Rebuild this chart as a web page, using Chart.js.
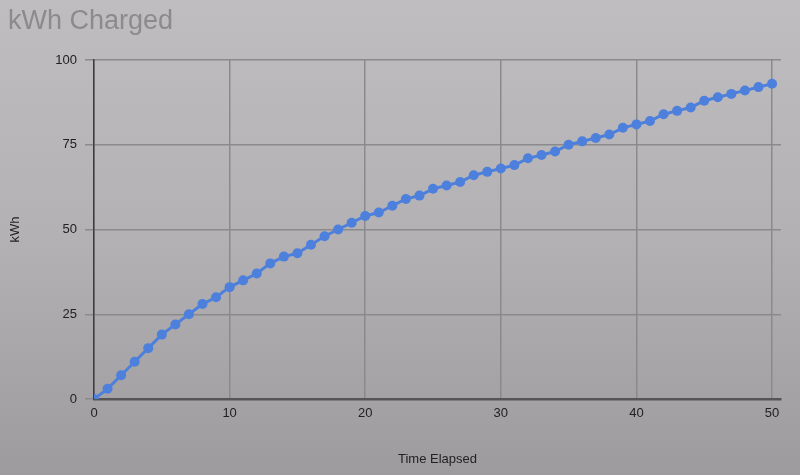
<!DOCTYPE html>
<html>
<head>
<meta charset="utf-8">
<script src="https://cdn.jsdelivr.net/npm/chart.js@4/dist/chart.umd.min.js"></script>
<style>
  html, body { margin: 0; padding: 0; background: #b4b2b4; }
  canvas { display: block; }
</style>
</head>
<body>
<canvas id="c" width="800" height="475"></canvas>
<script>
const chartTitle = "kWh Charged";
const xTitle = "Time Elapsed";
const yTitle = "kWh";
const timeElapsed = [0,1,2,3,4,5,6,7,8,9,10,11,12,13,14,15,16,17,18,19,20,21,22,23,24,25,26,27,28,29,30,31,32,33,34,35,36,37,38,39,40,41,42,43,44,45,46,47,48,49,50];
const kwhCharged = [0,3,7,11,15,19,22,25,28,30,33,35,37,40,42,43,45.5,48,50,52,54,55,57,59,60,62,63,64,66,67,68,69,71,72,73,75,76,77,78,80,81,82,84,85,86,88,89,90,91,92,93];
const xTicks = [0,10,20,30,40,50];
const yTicks = [0,25,50,75,100];

const points = timeElapsed.map((t, i) => ({ x: t, y: kwhCharged[i] }));

const bgPlugin = {
  id: 'bg',
  beforeDraw(chart) {
    const ctx = chart.ctx;
    const w = chart.width, h = chart.height;
    ctx.save();
    const g = ctx.createLinearGradient(0, 0, 0, h);
    g.addColorStop(0, '#bfbdc0');
    g.addColorStop(0.5, '#b3b1b3');
    g.addColorStop(1, '#9d9b9d');
    ctx.fillStyle = g;
    ctx.fillRect(0, 0, w, h);
    ctx.fillStyle = '#8b8a8c';
    ctx.font = '27px "Liberation Sans", Arial, sans-serif';
    ctx.textBaseline = 'alphabetic';
    ctx.textAlign = 'left';
    ctx.fillText(chartTitle, 8, 29);
    ctx.restore();
  }
};

const labelFont = { family: '"Liberation Sans", Arial, sans-serif', size: 13 };

new Chart(document.getElementById('c'), {
  type: 'line',
  data: {
    datasets: [{
      data: points,
      borderColor: '#4d80dc',
      backgroundColor: '#4d80dc',
      borderWidth: 3,
      pointRadius: 5,
      pointHoverRadius: 5,
      pointBorderWidth: 0,
      tension: 0,
      fill: false
    }]
  },
  options: {
    responsive: false,
    animation: false,
    devicePixelRatio: 1,
    layout: { padding: { top: 60, right: 19, left: 0, bottom: 0 } },
    plugins: { legend: { display: false }, title: { display: false }, tooltip: { enabled: false } },
    scales: {
      x: {
        type: 'linear',
        min: 0,
        max: 50.66,
        afterBuildTicks(scale) { scale.ticks = xTicks.map(v => ({ value: v })); },
        afterFit(scale) { scale.height = 76; },
        grid: { color: '#8a898b', lineWidth: 1.5, drawTicks: false },
        border: { color: '#555456', width: 2.5 },
        ticks: { padding: 7, color: '#222', font: labelFont, maxRotation: 0 },
        title: {
          display: true, text: xTitle, color: '#222', font: labelFont,
          padding: { top: 0, bottom: 8 }
        }
      },
      y: {
        type: 'linear',
        min: 0,
        max: 100,
        afterBuildTicks(scale) { scale.ticks = yTicks.map(v => ({ value: v })); },
        afterFit(scale) { scale.width = 94; },
        grid: { color: '#8a898b', lineWidth: 1.5, tickLength: 9 },
        border: { color: '#3c3b3d', width: 1.5 },
        ticks: { padding: 8, color: '#222', font: labelFont },
        title: {
          display: true, text: yTitle, color: '#222', font: labelFont,
          padding: { top: 8, bottom: 0 }
        }
      }
    }
  },
  plugins: [bgPlugin]
});
</script>
</body>
</html>
